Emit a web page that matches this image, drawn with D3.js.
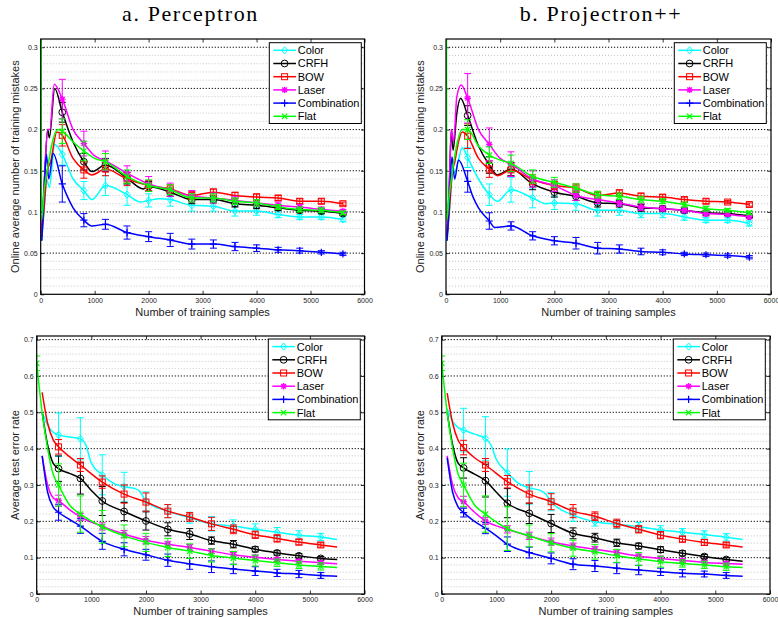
<!DOCTYPE html>
<html><head><meta charset="utf-8">
<script src="https://cdn.jsdelivr.net/npm/d3@7"></script>
<style>body{margin:0;background:#fff}svg{display:block}</style>
</head><body>
<svg id="chart" width="778" height="617"></svg>
<script>
// ---------------- data ----------------
const panelTitles = ["a. Perceptron", "b. Projectron++"];
const seriesNames = ["Color", "CRFH", "BOW", "Laser", "Combination", "Flat"];
const xTickValues = [0, 1000, 2000, 3000, 4000, 5000, 6000];
const yTicksTop = [0, 0.05, 0.1, 0.15, 0.2, 0.25, 0.3];
const yTicksBottom = [0, 0.1, 0.2, 0.3, 0.4, 0.5, 0.6, 0.7];
const topMarkerX = [400, 800, 1200, 1600, 2000, 2400, 2800, 3200, 3600, 4000, 4400, 4800, 5200, 5600];
const bottomMarkerX = [400, 800, 1200, 1600, 2000, 2400, 2800, 3200, 3600, 4000, 4400, 4800, 5200];
const bottomFlatMarkerX = [0, 400, 800, 1200, 1600, 2000, 2400, 2800, 3200, 3600, 4000, 4400, 4800, 5200];
const xLabel = "Number of training samples";
const yLabelTop = "Online average number of training mistakes";
const yLabelBottom = "Average test error rate";

// a. Perceptron - online training mistakes
const aColorLine = [[20,.065],[60,.1],[110,.14],[160,.13],[260,.182],[400,.17],[600,.14],[800,.126],[950,.115],[1200,.132],[1600,.121],[1850,.112],[2000,.114],[2200,.116],[2400,.115],[2800,.108],[3200,.107],[3600,.101],[4000,.101],[4400,.097],[4800,.094],[5200,.094],[5600,.091]];
const aColorErr = [.013,.011,.012,.013,.008,.008,.007,.006,.006,.005,.004,.003,.003,.003];
const aCrfhLine = [[20,.075],[70,.14],[130,.2],[160,.19],[260,.25],[400,.221],[600,.185],[800,.161],[950,.149],[1200,.157],[1600,.141],[1900,.128],[2000,.131],[2400,.124],[2800,.115],[3200,.115],[3600,.11],[4000,.108],[4400,.105],[4800,.102],[5200,.101],[5600,.098]];
const aCrfhErr = [.012,.01,.008,.007,.006,.005,.005,.004,.004,.004,.003,.003,.003,.002];
const aBowLine = [[20,.07],[70,.11],[120,.15],[180,.16],[300,.197],[400,.193],[600,.165],[800,.151],[950,.145],[1200,.152],[1600,.14],[2000,.132],[2400,.128],[2800,.12],[3200,.124],[3600,.12],[4000,.118],[4400,.117],[4800,.113],[5200,.113],[5600,.11]];
const aBowErr = [.013,.01,.008,.008,.006,.005,.005,.004,.004,.004,.003,.003,.003,.002];
const aLaserLine = [[20,.075],[70,.14],[130,.2],[170,.2],[250,.255],[400,.237],[600,.2],[800,.183],[1000,.168],[1200,.162],[1600,.147],[2000,.134],[2400,.127],[2800,.119],[3200,.117],[3600,.114],[4000,.111],[4400,.108],[4800,.106],[5200,.103],[5600,.101]];
const aLaserErr = [.024,.015,.012,.009,.009,.008,.007,.006,.005,.004,.004,.003,.003,.002];
const aCombLine = [[20,.065],[60,.12],[105,.17],[150,.14],[230,.171],[400,.134],[500,.118],[600,.105],[800,.09],[950,.083],[1200,.085],[1600,.075],[2000,.07],[2400,.066],[2800,.061],[3200,.061],[3600,.058],[4000,.056],[4400,.054],[4800,.053],[5200,.051],[5600,.049]];
const aCombErr = [.022,.008,.006,.008,.006,.008,.006,.005,.005,.004,.003,.003,.002,.002];
const aFlatLine = [[1,1.0],[15,.09],[70,.13],[120,.15],[200,.18],[320,.2],[400,.198],[600,.185],[800,.174],[1000,.165],[1200,.161],[1600,.143],[2000,.132],[2400,.127],[2800,.117],[3200,.117],[3600,.113],[4000,.111],[4400,.106],[4800,.103],[5200,.102],[5600,.099]];
const aFlatErr = [.015,.012,.01,.008,.007,.006,.005,.005,.004,.004,.003,.003,.003,.002];

// b. Projectron++ - online training mistakes
const bColorLine = [[20,.065],[60,.1],[120,.145],[180,.15],[300,.178],[400,.166],[600,.14],[800,.121],[950,.113],[1200,.127],[1600,.117],[1850,.11],[2000,.111],[2400,.11],[2800,.102],[3200,.102],[3600,.098],[4000,.098],[4400,.094],[4800,.09],[5200,.09],[5600,.086]];
const bColorErr = [.012,.013,.015,.012,.008,.008,.007,.006,.005,.005,.004,.003,.003,.003];
const bCrfhLine = [[20,.07],[60,.13],[100,.2],[130,.175],[200,.22],[270,.238],[400,.217],[600,.18],[800,.157],[950,.145],[1200,.152],[1600,.134],[2000,.124],[2400,.119],[2800,.111],[3200,.11],[3600,.105],[4000,.104],[4400,.102],[4800,.099],[5200,.098],[5600,.095]];
const bCrfhErr = [.012,.01,.008,.007,.006,.005,.005,.004,.004,.003,.003,.003,.002,.002];
const bBowLine = [[20,.07],[60,.1],[120,.15],[160,.16],[230,.185],[300,.197],[400,.192],[600,.165],[800,.152],[950,.144],[1200,.151],[1600,.139],[2000,.132],[2400,.129],[2800,.12],[3200,.123],[3600,.119],[4000,.118],[4400,.115],[4800,.113],[5200,.112],[5600,.109]];
const bBowErr = [.015,.01,.008,.006,.005,.005,.005,.004,.004,.003,.003,.003,.002,.002];
const bLaserLine = [[20,.07],[60,.13],[100,.2],[140,.185],[200,.24],[280,.254],[400,.238],[600,.2],[800,.182],[1000,.165],[1200,.158],[1600,.14],[2000,.132],[2400,.12],[2800,.115],[3200,.111],[3600,.106],[4000,.104],[4400,.102],[4800,.098],[5200,.097],[5600,.094]];
const bLaserErr = [.03,.02,.015,.01,.007,.006,.005,.004,.004,.003,.003,.003,.002,.002];
const bCombLine = [[20,.065],[60,.11],[110,.167],[160,.14],[230,.163],[400,.137],[500,.118],[600,.105],[800,.089],[900,.081],[1200,.083],[1600,.071],[2000,.065],[2400,.062],[2800,.056],[3200,.055],[3600,.052],[4000,.051],[4400,.049],[4800,.048],[5200,.047],[5600,.045]];
const bCombErr = [.013,.01,.005,.005,.005,.007,.007,.005,.004,.003,.002,.002,.002,.002];
const bFlatLine = [[1,1.0],[15,.09],[60,.12],[110,.145],[180,.175],[300,.2],[400,.2],[600,.18],[800,.169],[1000,.163],[1200,.159],[1600,.143],[2000,.136],[2400,.129],[2800,.121],[3200,.119],[3600,.115],[4000,.113],[4400,.109],[4800,.104],[5200,.102],[5600,.099]];
const bFlatErr = [.012,.01,.01,.008,.006,.005,.004,.004,.004,.003,.003,.003,.002,.002];

// c. Perceptron - test error rate
const cColorLine = [[100,.5],[200,.465],[300,.445],[400,.438],[600,.432],[800,.427],[900,.41],[1000,.36],[1200,.328],[1400,.305],[1600,.295],[1800,.29],[1900,.28],[2000,.255],[2400,.228],[2800,.21],[3200,.193],[3600,.187],[4000,.178],[4400,.17],[4800,.162],[5200,.157],[5500,.15]];
const cColorErr = [.06,.058,.055,.04,.026,.018,.015,.02,.017,.015,.013,.012,.01];
const cCrfhLine = [[100,.5],[200,.41],[300,.36],[400,.345],[600,.332],[800,.318],[1000,.285],[1200,.256],[1600,.227],[2000,.201],[2400,.178],[2800,.165],[3200,.147],[3600,.137],[4000,.123],[4400,.113],[4800,.105],[5200,.098],[5500,.095]];
const cCrfhErr = [.035,.043,.04,.025,.025,.018,.015,.01,.01,.007,.006,.006,.005];
const cBowLine = [[100,.555],[200,.47],[300,.425],[400,.405],[600,.378],[800,.355],[1200,.308],[1600,.275],[2000,.253],[2400,.228],[2800,.212],[3200,.193],[3600,.178],[4000,.163],[4400,.153],[4800,.143],[5200,.135],[5500,.129]];
const cBowErr = [.02,.018,.017,.025,.025,.018,.012,.018,.012,.01,.01,.008,.006];
const cLaserLine = [[100,.38],[200,.3],[300,.265],[400,.257],[600,.232],[800,.212],[1200,.186],[1600,.165],[2000,.148],[2400,.137],[2800,.128],[3200,.118],[3600,.108],[4000,.101],[4400,.095],[4800,.09],[5200,.086],[5500,.083]];
const cLaserErr = [.015,.01,.01,.01,.01,.008,.008,.007,.006,.006,.005,.005,.005];
const cCombLine = [[100,.38],[200,.28],[300,.24],[400,.225],[600,.205],[800,.187],[1000,.165],[1200,.145],[1600,.123],[2000,.108],[2400,.093],[2800,.083],[3200,.075],[3600,.069],[4000,.063],[4400,.058],[4800,.055],[5200,.051],[5500,.049]];
const cCombErr = [.022,.02,.022,.018,.015,.017,.015,.016,.013,.012,.01,.01,.008];
const cFlatLine = [[0,.635],[100,.5],[200,.4],[300,.33],[400,.3],[600,.245],[800,.22],[1200,.185],[1600,.16],[2000,.142],[2400,.128],[2800,.118],[3200,.106],[3600,.099],[4000,.092],[4400,.086],[4800,.08],[5200,.076],[5500,.073]];
const cFlatErr = [.02,.058,.05,.045,.03,.025,.025,.02,.018,.018,.015,.01,.01,.01];

// d. Projectron++ - test error rate
const dColorLine = [[100,.51],[200,.475],[300,.458],[400,.451],[600,.44],[800,.428],[900,.41],[1000,.37],[1200,.334],[1400,.305],[1600,.292],[1800,.285],[1900,.275],[2000,.254],[2400,.217],[2800,.199],[3200,.192],[3600,.185],[4000,.176],[4400,.17],[4800,.164],[5200,.156],[5500,.15]];
const dColorErr = [.06,.06,.065,.045,.025,.017,.012,.012,.012,.012,.01,.01,.01];
const dCrfhLine = [[100,.5],[200,.41],[300,.36],[400,.347],[600,.33],[800,.312],[1000,.28],[1200,.25],[1600,.222],[2000,.194],[2400,.167],[2800,.155],[3200,.141],[3600,.132],[4000,.122],[4400,.112],[4800,.103],[5200,.095],[5500,.09]];
const dCrfhErr = [.028,.045,.04,.028,.025,.015,.012,.01,.008,.008,.007,.006,.005];
const dBowLine = [[100,.553],[200,.47],[300,.423],[400,.403],[600,.375],[800,.355],[1200,.309],[1600,.275],[2000,.254],[2400,.228],[2800,.214],[3200,.194],[3600,.178],[4000,.162],[4400,.151],[4800,.142],[5200,.135],[5500,.129]];
const dBowErr = [.02,.018,.017,.025,.022,.018,.012,.012,.01,.01,.008,.008,.006];
const dLaserLine = [[100,.38],[200,.3],[300,.265],[400,.254],[600,.225],[800,.201],[1200,.178],[1600,.16],[2000,.144],[2400,.132],[2800,.123],[3200,.114],[3600,.104],[4000,.098],[4400,.092],[4800,.087],[5200,.084],[5500,.082]];
const dLaserErr = [.015,.01,.01,.01,.01,.008,.008,.007,.006,.006,.005,.005,.005];
const dCombLine = [[100,.375],[200,.28],[300,.24],[400,.224],[600,.2],[800,.181],[1000,.16],[1200,.137],[1600,.114],[2000,.098],[2400,.082],[2800,.077],[3200,.071],[3600,.066],[4000,.061],[4400,.057],[4800,.055],[5200,.051],[5500,.049]];
const dCombErr = [.012,.015,.02,.015,.015,.015,.015,.015,.013,.01,.01,.008,.008];
const dFlatLine = [[0,.635],[100,.5],[200,.4],[300,.33],[400,.3],[600,.245],[800,.22],[1200,.18],[1600,.16],[2000,.141],[2400,.126],[2800,.116],[3200,.105],[3600,.096],[4000,.089],[4400,.084],[4800,.08],[5200,.075],[5500,.073]];
const dFlatErr = [.02,.06,.05,.06,.03,.025,.022,.02,.018,.018,.015,.01,.01,.01];

// ---------------- styles / layout ----------------
const seriesColors = ["#00ffff", "#000000", "#ff0000", "#ff00ff", "#0000ff", "#00ff00"];
const seriesMarkers = ["diamond", "circle", "square", "asterisk", "plus", "cross"];

const panels = [
  {left: 40.7, right: 364.5, top: 39, bottom: 294.3, ymax: 0.31, yTicks: yTicksTop, minorStep: 0.01,
   yLabel: yLabelTop, yLabelX: 15, legX: 269.3, legY: 42.7,
   lines: [aColorLine, aCrfhLine, aBowLine, aLaserLine, aCombLine, aFlatLine],
   errs: [aColorErr, aCrfhErr, aBowErr, aLaserErr, aCombErr, aFlatErr],
   mx: [topMarkerX, topMarkerX, topMarkerX, topMarkerX, topMarkerX, topMarkerX]},
  {left: 446, right: 771, top: 39, bottom: 294.3, ymax: 0.31, yTicks: yTicksTop, minorStep: 0.01,
   yLabel: yLabelTop, yLabelX: 420, legX: 674.3, legY: 42.7,
   lines: [bColorLine, bCrfhLine, bBowLine, bLaserLine, bCombLine, bFlatLine],
   errs: [bColorErr, bCrfhErr, bBowErr, bLaserErr, bCombErr, bFlatErr],
   mx: [topMarkerX, topMarkerX, topMarkerX, topMarkerX, topMarkerX, topMarkerX]},
  {left: 36.7, right: 364.5, top: 336, bottom: 594, ymax: 0.71, yTicks: yTicksBottom, minorStep: 0.02,
   yLabel: yLabelBottom, yLabelX: 15, legX: 268.3, legY: 339,
   lines: [cColorLine, cCrfhLine, cBowLine, cLaserLine, cCombLine, cFlatLine],
   errs: [cColorErr, cCrfhErr, cBowErr, cLaserErr, cCombErr, cFlatErr],
   mx: [bottomMarkerX, bottomMarkerX, bottomMarkerX, bottomMarkerX, bottomMarkerX, bottomFlatMarkerX]},
  {left: 441.7, right: 770, top: 336, bottom: 594, ymax: 0.71, yTicks: yTicksBottom, minorStep: 0.02,
   yLabel: yLabelBottom, yLabelX: 420, legX: 673.3, legY: 339,
   lines: [dColorLine, dCrfhLine, dBowLine, dLaserLine, dCombLine, dFlatLine],
   errs: [dColorErr, dCrfhErr, dBowErr, dLaserErr, dCombErr, dFlatErr],
   mx: [bottomMarkerX, bottomMarkerX, bottomMarkerX, bottomMarkerX, bottomMarkerX, bottomFlatMarkerX]}
];

const svg = d3.select("#chart");
const sansFont = "'Liberation Sans', Arial, Helvetica, sans-serif";

// titles
const titlePos = [190.5, 601];
panelTitles.forEach((t, i) => {
  svg.append("text").attr("x", titlePos[i]).attr("y", 20.7)
    .attr("text-anchor", "middle")
    .style("font-family", "'Liberation Serif', 'Times New Roman', serif")
    .style("font-size", "22px").style("letter-spacing", "1.6px")
    .text(t);
});

function drawMarker(g, type, color) {
  if (type === "diamond") {
    g.append("path").attr("d", "M0,-3.6L3,0L0,3.6L-3,0Z").attr("fill", "none").attr("stroke", color).attr("stroke-width", 1);
  } else if (type === "circle") {
    g.append("circle").attr("r", 3.4).attr("fill", "none").attr("stroke", color).attr("stroke-width", 1);
  } else if (type === "square") {
    g.append("rect").attr("x", -3).attr("y", -3).attr("width", 6).attr("height", 6).attr("fill", "none").attr("stroke", color).attr("stroke-width", 1);
  } else if (type === "asterisk") {
    g.append("path").attr("d", "M-3.2,0H3.2M0,-3.2V3.2M-2.3,-2.3L2.3,2.3M-2.3,2.3L2.3,-2.3").attr("stroke", color).attr("stroke-width", 1.4);
    g.append("circle").attr("r", 1.6).attr("fill", color);
  } else if (type === "plus") {
    g.append("path").attr("d", "M-3.6,0H3.6M0,-3.6V3.6").attr("stroke", color).attr("stroke-width", 1.2);
  } else if (type === "cross") {
    g.append("path").attr("d", "M-2.7,-2.7L2.7,2.7M-2.7,2.7L2.7,-2.7").attr("stroke", color).attr("stroke-width", 1.2);
  }
}

panels.forEach((p, pi) => {
  const g = svg.append("g");
  const x = d3.scaleLinear().domain([0, 6000]).range([p.left, p.right]);
  const y = d3.scaleLinear().domain([0, p.ymax]).range([p.bottom, p.top]);

  // frame background
  g.append("rect").attr("x", p.left).attr("y", p.top).attr("width", p.right - p.left).attr("height", p.bottom - p.top).attr("fill", "#fff");

  // minor grid
  const minor = d3.range(p.minorStep, p.ymax - 1e-6, p.minorStep)
    .filter(v => !p.yTicks.some(t => Math.abs(t - v) < 1e-6));
  g.selectAll(".minor").data(minor).join("line")
    .attr("x1", p.left).attr("x2", p.right)
    .attr("y1", d => y(d)).attr("y2", d => y(d))
    .attr("stroke", "#b8b8b8").attr("stroke-width", 0.8).attr("stroke-dasharray", "1,2");
  // major grid
  g.selectAll(".major").data(p.yTicks.filter(v => v > 0)).join("line")
    .attr("x1", p.left).attr("x2", p.right)
    .attr("y1", d => y(d)).attr("y2", d => y(d))
    .attr("stroke", "#000").attr("stroke-width", 1).attr("stroke-dasharray", "1.2,1.8");

  // axes
  const fmt = d => String(+(+d).toFixed(2));
  const ax = g.append("g").attr("transform", `translate(0,${p.bottom})`)
    .call(d3.axisBottom(x).tickValues(xTickValues).tickSizeInner(-3.5).tickSizeOuter(0).tickPadding(3.5).tickFormat(d3.format("d")));
  const axT = g.append("g").attr("transform", `translate(0,${p.top})`)
    .call(d3.axisTop(x).tickValues(xTickValues).tickSizeInner(-3.5).tickSizeOuter(0).tickFormat(""));
  const ay = g.append("g").attr("transform", `translate(${p.left},0)`)
    .call(d3.axisLeft(y).tickValues(p.yTicks).tickSizeInner(-3.5).tickSizeOuter(0).tickPadding(3).tickFormat(fmt));
  const ayR = g.append("g").attr("transform", `translate(${p.right},0)`)
    .call(d3.axisRight(y).tickValues(p.yTicks).tickSizeInner(-3.5).tickSizeOuter(0).tickFormat(""));
  [ax, axT, ay, ayR].forEach(a => {
    a.select(".domain").remove();
    a.selectAll("text").style("font-family", sansFont).style("font-size", "7px").attr("fill", "#222");
    a.selectAll("line").attr("stroke", "#000").attr("stroke-width", 0.8);
  });

  // clip
  const clipId = "clip" + pi;
  svg.append("clipPath").attr("id", clipId).append("rect")
    .attr("x", p.left).attr("y", p.top).attr("width", p.right - p.left).attr("height", p.bottom - p.top);
  const plot = g.append("g").attr("clip-path", `url(#${clipId})`);

  const lineGen = d3.line().x(d => x(d[0])).y(d => y(d[1])).curve(d3.curveMonotoneX);

  p.lines.forEach((ln, si) => {
    const color = seriesColors[si];
    const sg = plot.append("g");
    sg.append("path").datum(ln).attr("d", lineGen)
      .attr("fill", "none").attr("stroke", color).attr("stroke-width", 1.5).attr("stroke-linejoin", "round");
    const pts = p.mx[si].map((mx, k) => {
      const found = ln.find(d => d[0] === mx);
      return {x: mx, v: found[1], e: p.errs[si][k]};
    });
    // error bars
    pts.forEach(d => {
      const cx = x(d.x), y1 = y(d.v - d.e), y2 = y(d.v + d.e);
      sg.append("path")
        .attr("d", `M${cx},${y1}V${y2}M${cx - 3.5},${y1}H${cx + 3.5}M${cx - 3.5},${y2}H${cx + 3.5}`)
        .attr("stroke", color).attr("stroke-width", 1).attr("fill", "none");
    });
    pts.forEach(d => {
      const mg = sg.append("g").attr("transform", `translate(${x(d.x)},${y(d.v)})`);
      drawMarker(mg, seriesMarkers[si], color);
    });
  });

  // frame
  g.append("rect").attr("x", p.left).attr("y", p.top).attr("width", p.right - p.left).attr("height", p.bottom - p.top)
    .attr("fill", "none").attr("stroke", "#000").attr("stroke-width", 1.2);

  // axis labels
  g.append("text").attr("x", (p.left + p.right) / 2).attr("y", p.bottom + 17.4)
    .attr("text-anchor", "middle").attr("dominant-baseline", "central")
    .style("font-family", sansFont).style("font-size", "11px").attr("fill", "#222").text(xLabel);
  g.append("text").attr("transform", `translate(${p.yLabelX},${(p.top + p.bottom) / 2}) rotate(-90)`)
    .attr("text-anchor", "middle").attr("dominant-baseline", "central")
    .style("font-family", sansFont).style("font-size", "11px").attr("fill", "#222").text(p.yLabel);

  // legend
  const lg = g.append("g").attr("transform", `translate(${p.legX},${p.legY})`);
  lg.append("rect").attr("width", 92).attr("height", 80.8).attr("fill", "#fff").attr("stroke", "#000").attr("stroke-width", 1);
  seriesNames.forEach((name, si) => {
    const ry = 7.6 + si * 13.2;
    lg.append("line").attr("x1", 4).attr("x2", 26.7).attr("y1", ry).attr("y2", ry)
      .attr("stroke", seriesColors[si]).attr("stroke-width", 1.5);
    drawMarker(lg.append("g").attr("transform", `translate(15.3,${ry})`), seriesMarkers[si], seriesColors[si]);
    lg.append("text").attr("x", 28.4).attr("y", ry).attr("dominant-baseline", "central")
      .style("font-family", sansFont).style("font-size", "11px").attr("fill", "#000").text(name);
  });
});
</script>
</body></html>
